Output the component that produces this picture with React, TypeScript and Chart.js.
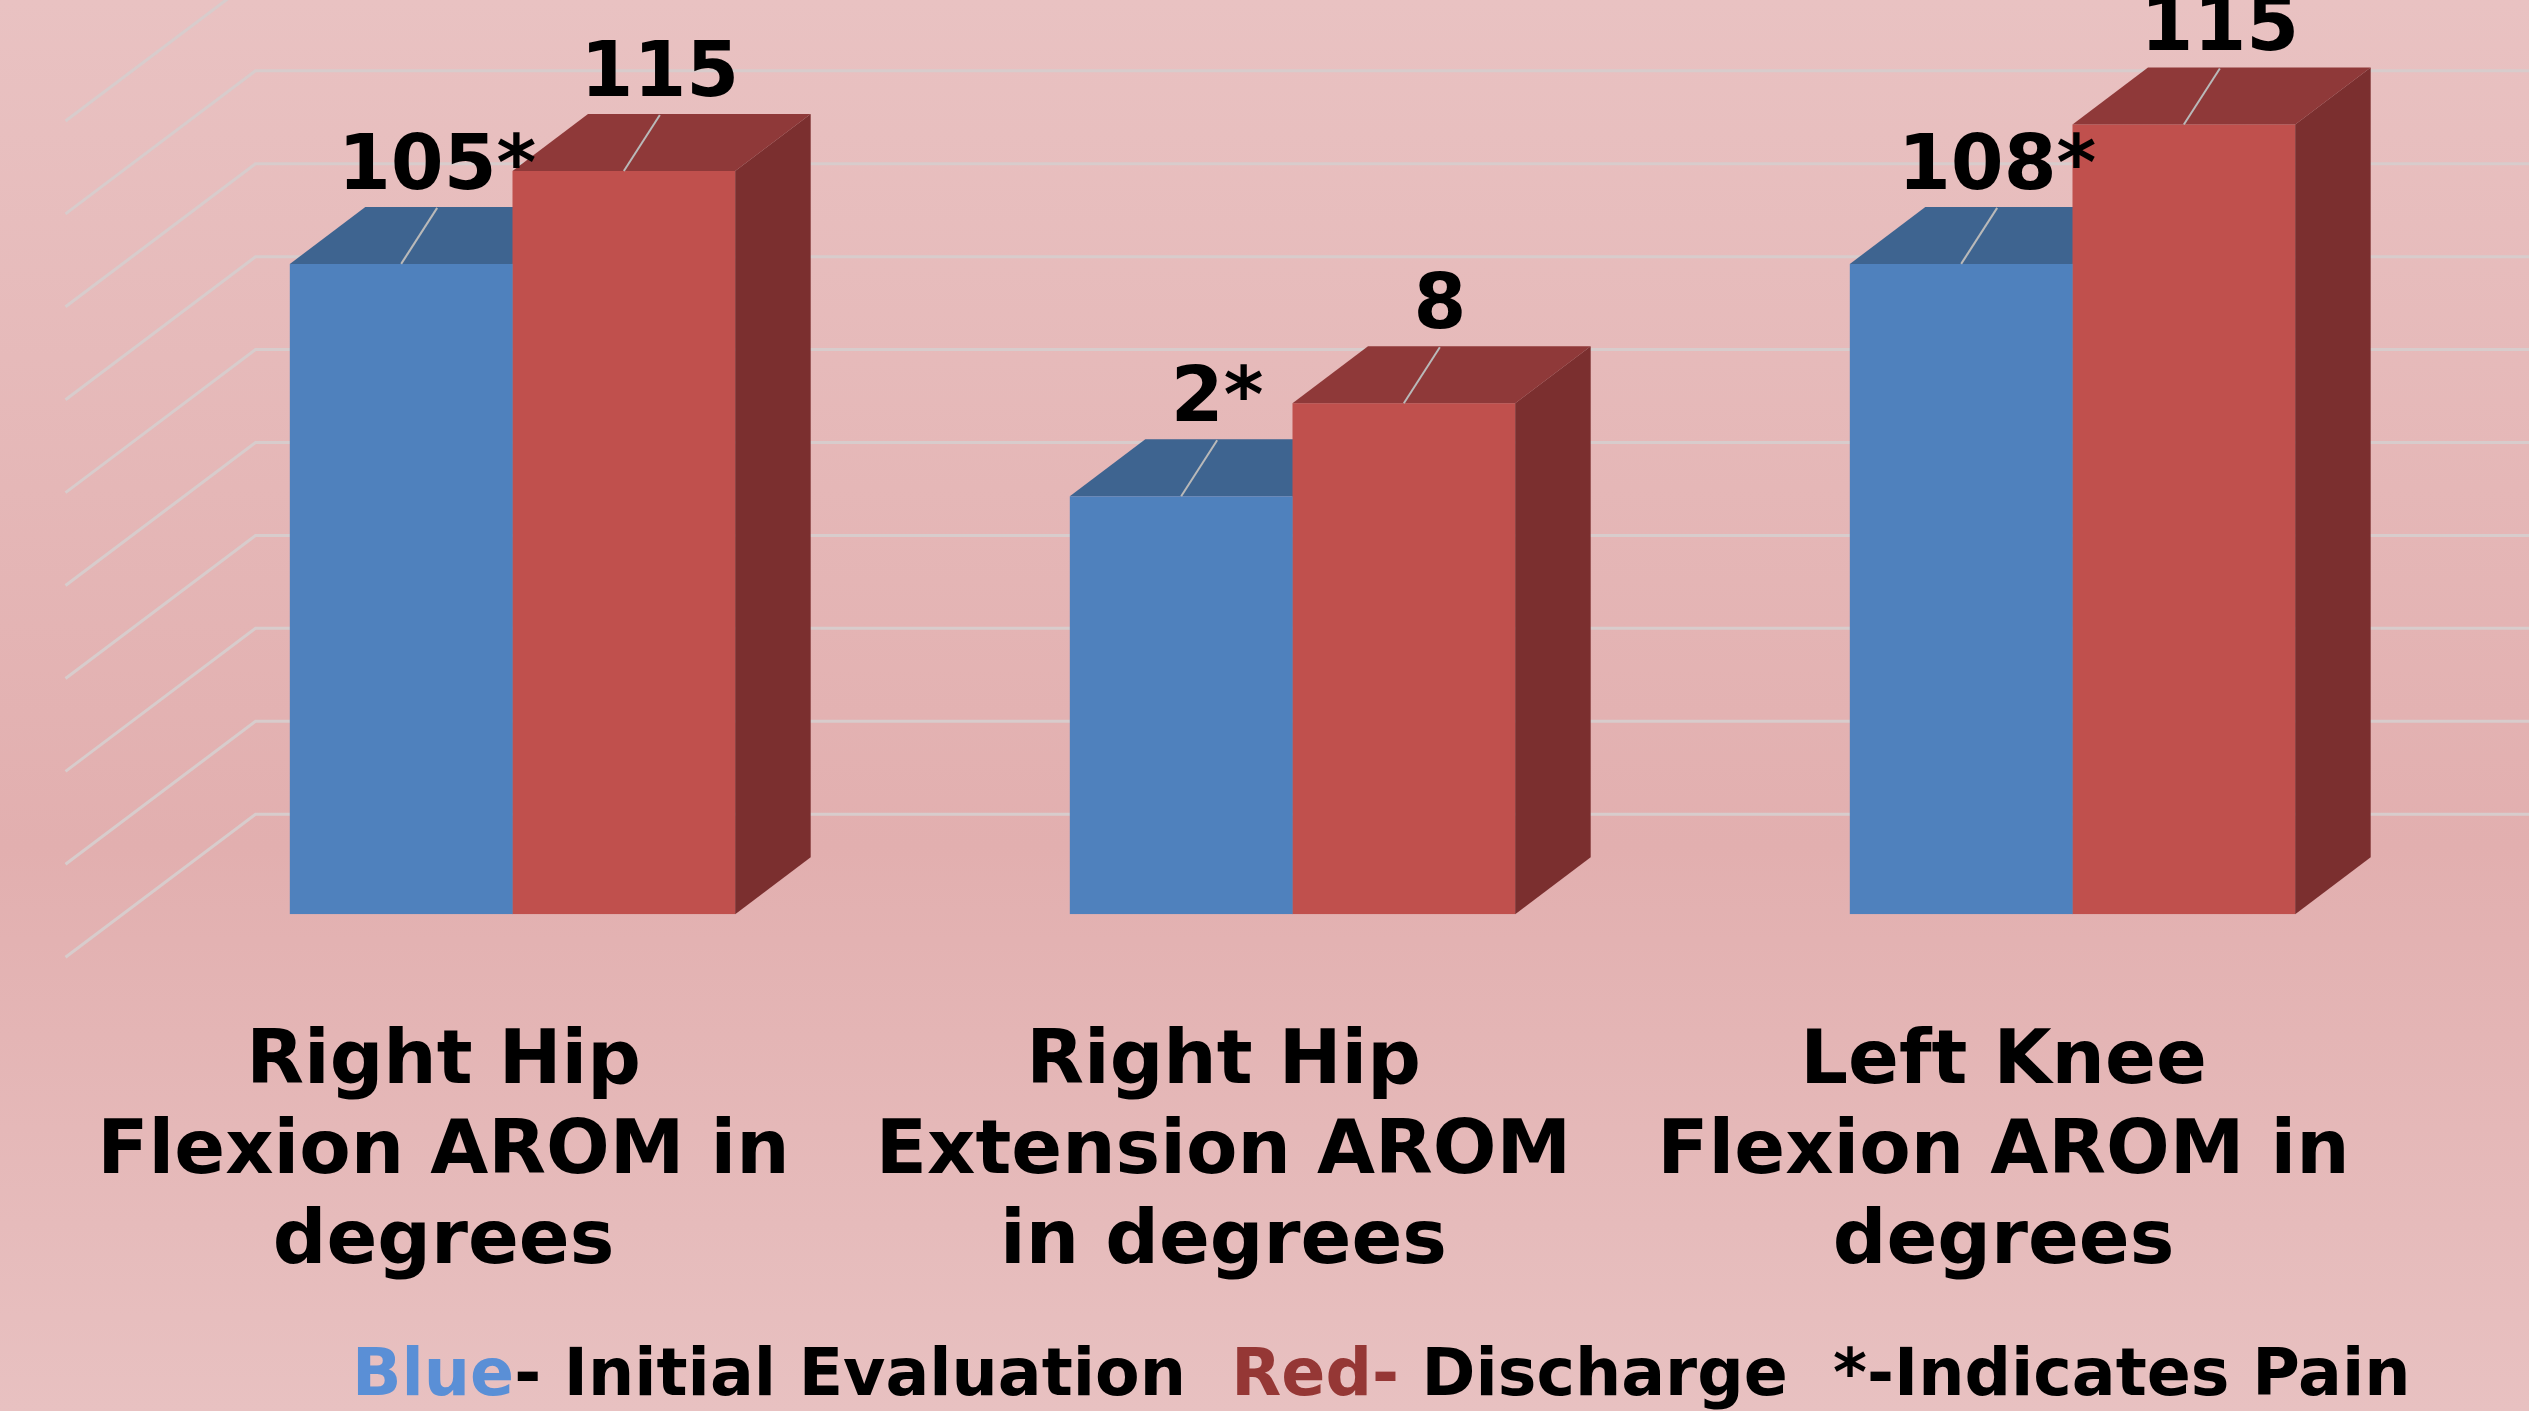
import React, { useEffect, useRef } from "react";
import { Chart, registerables } from "chart.js";

Chart.register(...registerables);

// ---------------- data ----------------
const categories: string[][] = [
  ["Right Hip", "Flexion AROM in", "degrees"],
  ["Right Hip", "Extension AROM", "in degrees"],
  ["Left Knee", "Flexion AROM in", "degrees"],
];
// bar heights as drawn, in gridline units (axis has no tick labels)
const initialEvaluation = [7, 4.5, 7];
const discharge = [8, 5.5, 8.5];
// data label texts as printed on the chart
const initialLabels = ["105*", "2*", "108*"];
const dischargeLabels = ["115", "8", "115"];
// back-wall gridlines
const gridValues = [0, 1, 2, 3, 4, 5, 6, 7, 8, 9];
const legendParts = [
  { text: "Blue", color: "#5a8fd6" },
  { text: "- Initial Evaluation  ", color: "#000000" },
  { text: "Red-", color: "#953735" },
  { text: " Discharge  *-Indicates Pain", color: "#000000" },
];

// ---------------- layout / style ----------------
const W = 2529;
const H = 1411;
const BASE_Y = 914.3;
const Y_MAX = 9.84;
const FONT = "'DejaVu Sans', 'Verdana', sans-serif";
const WALL = { dx: 190, dy: 143 };
const FRONT_FRAC = 0.3;
const BAR_DEPTH = { dx: 75.5, dy: 57 };
const COLORS = [
  { front: "#4f81bd", top: "#3e6490", side: "#30507a" },
  { front: "#c0504d", top: "#8f3939", side: "#7b2f2f" },
];
const LABEL_DX = 36;
const LABEL_DY = -56;

function drawFaces(chart: any, dsIndex: number) {
  const ctx = chart.ctx;
  const meta = chart.getDatasetMeta(dsIndex);
  const c = COLORS[dsIndex];
  meta.data.forEach((el: any) => {
    const { x, y, base, width } = el.getProps(["x", "y", "base", "width"], true);
    const x0 = x - width / 2;
    const x1 = x + width / 2;
    const { dx, dy } = BAR_DEPTH;
    ctx.save();
    ctx.fillStyle = c.top;
    ctx.beginPath();
    ctx.moveTo(x0, y);
    ctx.lineTo(x1, y);
    ctx.lineTo(x1 + dx, y - dy);
    ctx.lineTo(x0 + dx, y - dy);
    ctx.closePath();
    ctx.fill();
    ctx.fillStyle = c.side;
    ctx.beginPath();
    ctx.moveTo(x1, y);
    ctx.lineTo(x1 + dx, y - dy);
    ctx.lineTo(x1 + dx, base - dy);
    ctx.lineTo(x1, base);
    ctx.closePath();
    ctx.fill();
    ctx.restore();
  });
}

const threeDPlugin = {
  id: "threeD",
  beforeDraw(chart: any) {
    const ctx = chart.ctx;
    ctx.save();
    const g = ctx.createLinearGradient(0, 0, 0, H);
    g.addColorStop(0, "#e9c2c2");
    g.addColorStop(0.6, "#e2afaf");
    g.addColorStop(1, "#e8c1c1");
    ctx.fillStyle = g;
    ctx.fillRect(0, 0, W, H);
    const yScale = chart.scales.y;
    const left = chart.chartArea.left;
    ctx.strokeStyle = "#d8cccc";
    ctx.lineWidth = 3;
    gridValues.forEach((v) => {
      const yf = yScale.getPixelForValue(v);
      const fx = left - FRONT_FRAC * WALL.dx;
      const fy = yf + FRONT_FRAC * WALL.dy;
      const bx = left + (1 - FRONT_FRAC) * WALL.dx;
      const by = yf - (1 - FRONT_FRAC) * WALL.dy;
      ctx.beginPath();
      ctx.moveTo(fx, fy);
      ctx.lineTo(bx, by);
      ctx.lineTo(W, by);
      ctx.stroke();
    });
    ctx.restore();
  },
  beforeDatasetsDraw(chart: any) {
    const n = chart.data.datasets.length;
    for (let i = 0; i < n - 1; i++) drawFaces(chart, i);
  },
  afterDatasetsDraw(chart: any) {
    const n = chart.data.datasets.length;
    drawFaces(chart, n - 1);
    const ctx = chart.ctx;
    const labelSets = [initialLabels, dischargeLabels];
    ctx.save();
    for (let d = 0; d < n; d++) {
      const meta = chart.getDatasetMeta(d);
      meta.data.forEach((el: any, i: number) => {
        const { x, y } = el.getProps(["x", "y"], true);
        const lx = x + LABEL_DX;
        const ly = y + LABEL_DY;
        ctx.strokeStyle = "#b9b9b9";
        ctx.lineWidth = 2;
        ctx.beginPath();
        ctx.moveTo(x, y);
        ctx.lineTo(lx, ly);
        ctx.stroke();
        ctx.fillStyle = "#000";
        ctx.font = `bold 76px ${FONT}`;
        ctx.textAlign = "center";
        ctx.textBaseline = "alphabetic";
        ctx.fillText(labelSets[d][i], lx, ly - 19);
      });
    }
    ctx.restore();
  },
  afterDraw(chart: any) {
    const ctx = chart.ctx;
    ctx.save();
    ctx.font = `bold 65px ${FONT}`;
    ctx.textBaseline = "alphabetic";
    ctx.textAlign = "left";
    let x = 352;
    legendParts.forEach((p) => {
      ctx.fillStyle = p.color;
      ctx.fillText(p.text, x, 1395);
      x += ctx.measureText(p.text).width;
    });
    ctx.restore();
  },
};

export default function App() {
  const ref = useRef<HTMLCanvasElement>(null);
  useEffect(() => {
    document.body.style.margin = "0";
    const canvas = ref.current!;
    const chart = new Chart(canvas, {
      type: "bar",
      data: {
        labels: categories,
        datasets: [
          {
            label: "Initial Evaluation",
            data: initialEvaluation,
            backgroundColor: COLORS[0].front,
            borderWidth: 0,
          },
          {
            label: "Discharge",
            data: discharge,
            backgroundColor: COLORS[1].front,
            borderWidth: 0,
          },
        ],
      },
      options: {
        animation: false,
        responsive: false,
        devicePixelRatio: 1,
        layout: { padding: { left: 122.5, right: 66.5, top: 0, bottom: 0 } },
        datasets: { bar: { categoryPercentage: 0.571, barPercentage: 1 } },
        plugins: { legend: { display: false }, tooltip: { enabled: false } },
        scales: {
          x: {
            grid: { display: false, drawTicks: false },
            border: { display: false },
            ticks: {
              color: "#000",
              padding: 104,
              labelOffset: -69,
              maxRotation: 0,
              autoSkip: false,
              font: { family: FONT, weight: "bold", size: 75, lineHeight: 1.2 },
            },
            afterFit: (scale: any) => {
              scale.height = H - BASE_Y;
              scale.paddingLeft = 0;
              scale.paddingRight = 0;
            },
          },
          y: {
            display: false,
            min: 0,
            max: Y_MAX,
          },
        },
      },
      plugins: [threeDPlugin],
    } as any);
    return () => chart.destroy();
  }, []);
  return (
    <div style={{ width: W, height: H }}>
      <canvas ref={ref} width={W} height={H} style={{ display: "block", width: W, height: H }} />
    </div>
  );
}
